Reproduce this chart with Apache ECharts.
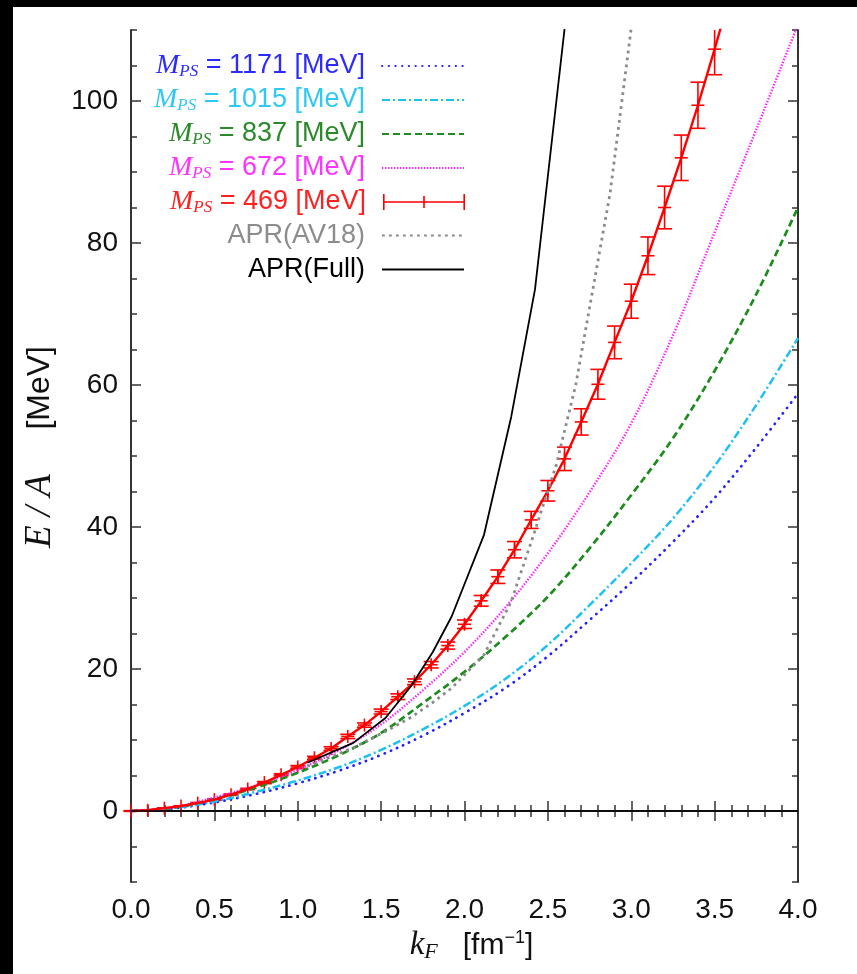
<!DOCTYPE html>
<html>
<head>
<meta charset="utf-8">
<script src="https://cdn.jsdelivr.net/npm/echarts@6/dist/echarts.min.js"></script>
<style>
  html, body { margin: 0; padding: 0; background: #000; }
  #paper { position: absolute; left: 13px; top: 7px; right: 0; bottom: 0; background: #fff; }
  #chart { position: absolute; left: 0; top: 0; width: 857px; height: 974px; }
</style>
</head>
<body>
<div id="paper"></div>
<div id="chart"></div>
<script>
// Fermi momentum grid of the smooth curves [fm^-1]
const kGrid = [0, 0.25, 0.5, 0.75, 1.0, 1.25, 1.5, 1.75, 2.0, 2.25, 2.5, 2.75, 3.0, 3.25, 3.5, 3.75, 4.0];
// E/A [MeV] for each pseudoscalar mass
const e1171 = [0, 0.35, 1.2, 2.4, 3.9, 5.7, 7.9, 10.6, 13.8, 17.4, 21.8, 26.9, 32.2, 37.9, 44.1, 51.2, 58.8];
const e1015 = [0, 0.4, 1.35, 2.7, 4.3, 6.2, 8.6, 11.5, 14.8, 18.7, 23.4, 29.0, 34.9, 41.2, 48.6, 57.2, 66.6];
const e837  = [0, 0.45, 1.7, 3.3, 5.4, 7.9, 11.0, 15.2, 19.6, 24.6, 30.2, 37.0, 44.5, 52.5, 62.0, 72.8, 85.0];
const e672  = [0, 0.5, 1.9, 3.6, 5.8, 8.6, 12.2, 17.0, 22.4, 28.8, 36.3, 44.9, 54.6, 67.0, 81.5, 96.0, 110.8];

// M_PS = 469 MeV: points with statistical errors
const kRed = [0.0, 0.1, 0.2, 0.3, 0.4, 0.5, 0.6, 0.7, 0.8, 0.9, 1.0, 1.1, 1.2, 1.3, 1.4, 1.5, 1.6, 1.7, 1.8,
              1.9, 2.0, 2.1, 2.2, 2.3, 2.4, 2.5, 2.6, 2.7, 2.8, 2.9, 3.0, 3.1, 3.2, 3.3, 3.4, 3.5, 3.6];
const eRed = [0, 0.1, 0.4, 0.7, 1.1, 1.6, 2.3, 3.1, 4.0, 5.1, 6.2, 7.5, 8.8, 10.5, 12.1, 14.0, 16.1, 18.2, 20.6,
              23.3, 26.3, 29.6, 33.0, 36.8, 41.0, 45.1, 49.6, 54.8, 60.1, 66.0, 71.8, 78.2, 85.0, 92.0, 99.4, 107.3, 115.5];
const errRed = [0.05, 0.05, 0.05, 0.05, 0.1, 0.1, 0.1, 0.1, 0.15, 0.15, 0.2, 0.2, 0.25, 0.3, 0.3, 0.35, 0.4, 0.4, 0.45,
                0.5, 0.6, 0.75, 0.95, 1.15, 1.2, 1.45, 1.65, 1.85, 2.1, 2.3, 2.4, 2.65, 3.0, 3.2, 3.25, 3.6, 3.9];

// APR neutron-matter equation of state, tabulated densities converted to k_F
const kApr  = [1.058, 1.333, 1.526, 1.680, 1.810, 1.923, 2.117, 2.280, 2.423, 2.551, 2.667, 2.873, 3.053];
const eAv18 = [6.3, 8.9, 11.2, 13.2, 15.3, 17.3, 22.0, 29.5, 39.5, 48.8, 60.0, 87.0, 120.0];
const eFull = [6.8, 9.6, 13.1, 17.6, 22.4, 27.4, 38.9, 55.5, 73.5, 100.0, 124.0, 175.0, 230.0];

// axis ticks
const xTickStep = 0.5;
const yLabelTicks = [0, 20, 40, 60, 80, 100];

const zip = (xs, ys) => xs.map((x, i) => [x, ys[i]]);

const SANS = 'Liberation Sans';
const SERIF = 'Liberation Serif';

const legendRich = {
  m: { fontFamily: SERIF, fontStyle: 'italic', fontSize: 28 },
  s: { fontFamily: SERIF, fontStyle: 'italic', fontSize: 17, padding: [12, 0, 0, 0] },
  t: { fontFamily: SANS, fontSize: 27, padding: [0, 12, 0, 0] }
};

const entries = [
  { name: 'M_PS = 1171 [MeV]', mass: '1171', color: '#2b2bff', y: 66 },
  { name: 'M_PS = 1015 [MeV]', mass: '1015', color: '#2ec8f5', y: 100 },
  { name: 'M_PS = 837 [MeV]',  mass: '837',  color: '#2a8a2a', y: 134 },
  { name: 'M_PS = 672 [MeV]',  mass: '672',  color: '#ff33ff', y: 168 },
  { name: 'M_PS = 469 [MeV]',  mass: '469',  color: '#ff2020', y: 202 },
  { name: 'APR(AV18)', color: '#8c8c8c', y: 236 },
  { name: 'APR(Full)', color: '#000000', y: 270 }
];

const errorIcon = 'path://M0,0H1.6V16H0Z M80.4,0H82V16H80.4Z M0,7.2H82V8.8H0Z M40.2,2H41.8V14H40.2Z';

const legends = entries.map(en => ({
  data: [en.name === 'M_PS = 469 [MeV]'
    ? { name: en.name, icon: errorIcon, itemStyle: { opacity: 1 } }
    : en.name],
  right: 392,
  top: en.y - 14,
  align: 'right',
  orient: 'vertical',
  padding: 0,
  itemWidth: 82,
  itemHeight: 16,
  selectedMode: false,
  itemStyle: { opacity: 0 },
  textStyle: { color: en.color, fontFamily: SANS, fontSize: 27, rich: legendRich },
  formatter: () => en.mass
    ? '{m|M}{s|PS}{t| = ' + en.mass + ' [MeV]}'
    : '{t|' + en.name + '}'
}));

function renderErrorBar(params, api) {
  const k = api.value(0), e = api.value(1), d = api.value(2);
  const c = api.coord([k, e]);
  const hi = api.coord([k, e + d]);
  const lo = api.coord([k, e - d]);
  const cap = 7.5, arm = 6.5;
  const st = { stroke: '#ff0000', lineWidth: 1.6, fill: null };
  const cs = params.coordSys;
  return {
    type: 'group',
    clipPath: { type: 'rect', shape: { x: cs.x - 30, y: cs.y, width: cs.width + 60, height: cs.height } },
    children: [
      { type: 'line', shape: { x1: c[0], y1: hi[1], x2: c[0], y2: lo[1] }, style: st },
      { type: 'line', shape: { x1: c[0] - cap, y1: hi[1], x2: c[0] + cap, y2: hi[1] }, style: st },
      { type: 'line', shape: { x1: c[0] - cap, y1: lo[1], x2: c[0] + cap, y2: lo[1] }, style: st },
      { type: 'line', shape: { x1: c[0] - arm, y1: c[1], x2: c[0] + arm, y2: c[1] }, style: st },
      { type: 'line', shape: { x1: c[0], y1: c[1] - arm, x2: c[0], y2: c[1] + arm }, style: st }
    ]
  };
}

const axisLine = { lineStyle: { color: '#333', width: 2 } };
const xBase = {
  type: 'value', min: 0, max: 4, interval: xTickStep, gridIndex: 0,
  axisLine: axisLine, splitLine: { show: false },
  axisTick: { inside: true, length: 10, lineStyle: { color: '#333', width: 1.5 } },
  minorTick: { show: true, splitNumber: 5, length: 6, lineStyle: { color: '#333', width: 1.5 } }
};
const yBase = {
  type: 'value', min: -10, max: 110, gridIndex: 0,
  axisLine: axisLine, splitLine: { show: false }
};

const curve = (name, ys, color, width, dash, cap) => ({
  name, type: 'line', data: zip(kGrid, ys), smooth: 0.35, symbol: 'none',
  lineStyle: { color, width, type: dash, cap: cap || 'butt' }, itemStyle: { color }
});

const option = {
  backgroundColor: 'transparent',
  animation: false,
  grid: { left: 131, right: 59, top: 30, bottom: 92 },
  legend: legends,
  xAxis: [
    Object.assign({}, xBase, {
      position: 'bottom',
      axisLabel: { color: '#111', fontFamily: SANS, fontSize: 28, margin: 14, formatter: v => v.toFixed(1) },
      name: '{k|k}{f|F}{t|   [fm}{p|−1}{t|]}',
      nameLocation: 'middle', nameGap: 46,
      nameTextStyle: {
        color: '#111',
        padding: [0, 0, 0, 14],
        rich: {
          k: { fontFamily: SERIF, fontStyle: 'italic', fontSize: 33 },
          f: { fontFamily: SERIF, fontStyle: 'italic', fontSize: 22, padding: [13, 0, 0, 0] },
          t: { fontFamily: SANS, fontSize: 30 },
          p: { fontFamily: SANS, fontSize: 18, padding: [0, 0, 15, 0] }
        }
      }
    }),
    Object.assign({}, xBase, { position: 'top', axisLabel: { show: false } })
  ],
  yAxis: [
    Object.assign({}, yBase, {
      position: 'left',
      axisLabel: { customValues: yLabelTicks, color: '#111', fontFamily: SANS, fontSize: 28, margin: 13 },
      axisTick: { customValues: yLabelTicks, inside: true, length: 10, lineStyle: { color: '#333', width: 1.5 } },
      name: '{e|E / A}{t|     [MeV]}',
      nameLocation: 'middle', nameGap: 72, nameRotate: 90,
      nameTextStyle: {
        color: '#111',
        padding: [0, 0, 0, 18],
        rich: {
          e: { fontFamily: SERIF, fontStyle: 'italic', fontSize: 37 },
          t: { fontFamily: SANS, fontSize: 32 }
        }
      }
    }),
    Object.assign({}, yBase, {
      position: 'left', interval: 5, axisLine: { show: false }, axisLabel: { show: false },
      axisTick: { inside: true, length: 6, lineStyle: { color: '#333', width: 1.5 } }
    }),
    Object.assign({}, yBase, {
      position: 'right', axisLabel: { show: false },
      axisTick: { customValues: yLabelTicks, inside: true, length: 10, lineStyle: { color: '#333', width: 1.5 } }
    }),
    Object.assign({}, yBase, {
      position: 'right', interval: 5, axisLine: { show: false }, axisLabel: { show: false },
      axisTick: { inside: true, length: 6, lineStyle: { color: '#333', width: 1.5 } }
    })
  ],
  series: [
    curve('M_PS = 1171 [MeV]', e1171, '#2222ff', 2.7, [0.3, 6.4], 'round'),
    curve('M_PS = 1015 [MeV]', e1015, '#1ec0f0', 2.5, [8, 3, 2, 3]),
    curve('M_PS = 837 [MeV]',  e837,  '#1c8c1c', 2.7, [7, 4]),
    curve('M_PS = 672 [MeV]',  e672,  '#ff22ff', 2.4, [1.4, 1.6]),
    {
      name: 'M_PS = 469 [MeV]', type: 'line', data: zip(kRed, eRed), symbol: 'none',
      lineStyle: { color: '#ff0000', width: 2.4 }, itemStyle: { color: '#ff0000' },
      markLine: {
        silent: true, symbol: 'none', label: { show: false },
        lineStyle: { color: '#000', width: 1.5, type: 'solid' },
        data: [{ yAxis: 0 }]
      }
    },
    {
      name: 'M_PS = 469 [MeV] errors', type: 'custom',
      data: kRed.map((k, i) => [k, eRed[i], errRed[i]]),
      renderItem: renderErrorBar, z: 3
    },
    {
      name: 'APR(AV18)', type: 'line', data: zip(kApr, eAv18), symbol: 'none',
      lineStyle: { color: '#8a8a8a', width: 2.8, type: [2.8, 4.2] }, itemStyle: { color: '#8a8a8a' }
    },
    {
      name: 'APR(Full)', type: 'line', data: zip(kApr, eFull), symbol: 'none',
      lineStyle: { color: '#000', width: 1.8 }, itemStyle: { color: '#000' }
    }
  ]
};

const chart = echarts.init(document.getElementById('chart'), null, { width: 857, height: 974 });
chart.setOption(option);
</script>
</body>
</html>
